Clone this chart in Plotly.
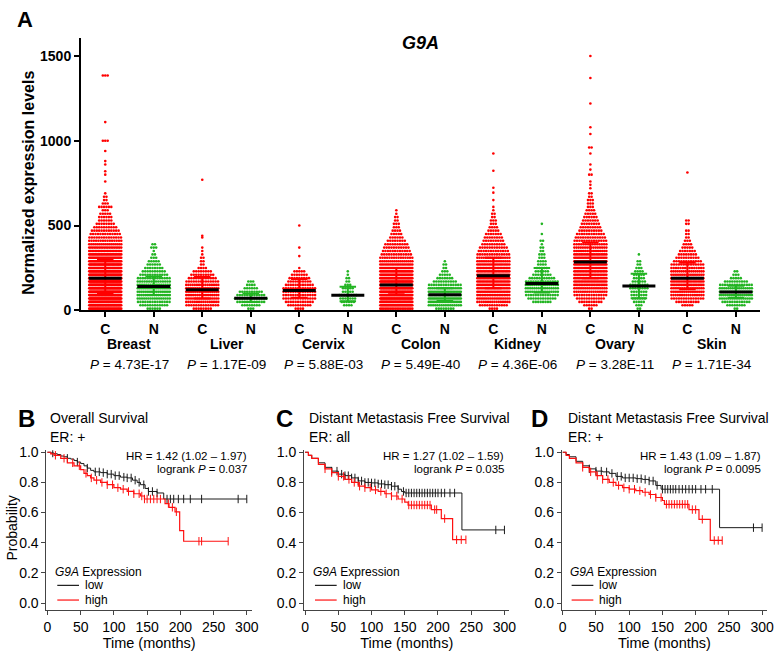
import plotly.graph_objects as go

FONT = "Liberation Sans, Arial, Helvetica, sans-serif"
W, H = 781, 656

# ---------------- Panel A data ----------------
TISSUES = ["Breast", "Liver", "Cervix", "Colon", "Kidney", "Ovary", "Skin"]
TICK_LABELS = ["C", "N", "C", "N", "C", "N", "C", "N", "C", "N", "C", "N", "C", "N"]
P_VALUES = ["4.73E-17", "1.17E-09", "5.88E-03", "5.49E-40", "4.36E-06", "3.28E-11", "1.71E-34"]
Y_TICKS = [0, 500, 1000, 1500]

# expression rows (values) and number of samples read in each row
ROW_VALUES = [10, 30, 50, 70, 90, 110, 130, 150, 170, 190, 210, 230, 250, 270, 290, 310, 330,
              350, 370, 390, 410, 430, 450, 470, 490, 510, 530, 550, 570, 590, 610, 630, 650, 670, 690]

breast_c = [30, 45, 50, 55, 55, 55, 55, 55, 55, 55, 50, 48, 45, 40, 35, 30, 26, 22, 20, 17, 15, 14, 13, 12,
            10, 8, 6, 6, 5, 3, 6, 3, 2, 2, 1]
breast_c_out = [760, 800, 820, 860, 880, 940, 1000, 1000, 1000, 1110, 1385, 1385, 1385]
breast_n = [6, 12, 14, 16, 18, 18, 18, 16, 15, 14, 12, 10, 8, 6, 5, 3, 2, 1, 3, 2]
breast_n_out = []
liver_c = [8, 14, 16, 18, 18, 18, 18, 16, 14, 12, 10, 8, 4, 2, 2, 2, 1, 1, 1]
liver_c_out = [430, 440, 770]
liver_n = [3, 8, 12, 14, 12, 10, 6, 4, 3]
liver_n_out = []
cervix_c = [4, 10, 12, 14, 14, 14, 14, 12, 10, 9, 7, 5, 1]
cervix_c_out = [320, 370, 500]
cervix_n = [0, 4, 6, 7, 8, 5, 5, 3, 2, 2, 1, 1]
cervix_n_out = []
colon_c = [20, 35, 40, 45, 45, 45, 45, 45, 42, 38, 34, 30, 25, 20, 17, 15, 13, 12, 11, 10, 8, 6, 5, 4, 3,
           3, 2, 2, 1, 1]
colon_c_out = []
colon_n = [8, 16, 22, 25, 25, 22, 18, 14, 10, 7, 5, 3, 2, 2, 1]
colon_n_out = []
kidney_c = [4, 12, 16, 18, 20, 22, 22, 24, 24, 25, 25, 24, 22, 20, 18, 16, 14, 13, 12, 10, 9, 8, 7, 5, 4,
            3, 3, 2, 2, 1, 1]
kidney_c_out = [650, 694, 723, 823, 925]
kidney_n = [0, 0, 8, 12, 14, 16, 16, 16, 14, 11, 8, 6, 5, 4, 4, 3, 3, 2, 2, 1, 2, 0, 1, 0, 0, 1]
kidney_n_out = []
ovary_c = [2, 6, 10, 12, 14, 16, 18, 20, 22, 22, 22, 22, 24, 24, 24, 22, 20, 18, 16, 15, 14, 13, 12, 10, 9,
           8, 7, 6, 5, 4, 3, 3, 3, 2, 2]
ovary_c_out = [720, 740, 760, 800, 800, 830, 860, 925, 960, 960, 1040, 1080, 1220, 1370, 1500]
ovary_n = [2, 3, 5, 6, 7, 7, 8, 8, 6, 5, 5, 4, 3, 2, 2, 0, 1]
ovary_n_out = []
skin_c = [0, 5, 10, 14, 16, 18, 18, 20, 20, 20, 18, 17, 15, 14, 12, 10, 8, 7, 5, 4, 3, 2, 2, 2, 0, 2, 2]
skin_c_out = [813]
skin_n = [2, 8, 12, 16, 18, 18, 16, 14, 10, 5, 3, 2]
skin_n_out = []

GROUP_COUNTS = [breast_c, breast_n, liver_c, liver_n, cervix_c, cervix_n, colon_c, colon_n,
                kidney_c, kidney_n, ovary_c, ovary_n, skin_c, skin_n]
GROUP_OUTLIERS = [breast_c_out, breast_n_out, liver_c_out, liver_n_out, cervix_c_out, cervix_n_out,
                  colon_c_out, colon_n_out, kidney_c_out, kidney_n_out, ovary_c_out, ovary_n_out,
                  skin_c_out, skin_n_out]
MEDIANS = [190, 140, 121, 72, 117, 89, 150, 92, 204, 158, 285, 143, 190, 108]
Q1 = [100, 90, 70, 50, 75, 54, 95, 55, 130, 106, 190, 71, 125, 75]
Q3 = [300, 200, 196, 100, 185, 139, 250, 130, 310, 250, 400, 216, 280, 145]

RED = "#FF0000"
GREEN = "#22B422"
DOT_STEP = 0.05
HALF_W = 0.33


def swarm(idx, counts, outliers):
    rows = {}
    for v, n in zip(ROW_VALUES, counts):
        if n:
            rows[v] = rows.get(v, 0) + n
    for v in outliers:
        rows[v] = rows.get(v, 0) + 1
    xs, ys = [], []
    for v, n in rows.items():
        step = DOT_STEP if n <= 1 else min(DOT_STEP, 2 * HALF_W / (n - 1))
        for k in range(n):
            xs.append(idx + (k - (n - 1) / 2) * step)
            ys.append(v)
    return xs, ys


fig = go.Figure()

for color_parity, color in ((0, RED), (1, GREEN)):
    X, Y = [], []
    for i in range(14):
        if i % 2 != color_parity:
            continue
        xs, ys = swarm(i, GROUP_COUNTS[i], GROUP_OUTLIERS[i])
        X += xs
        Y += ys
    fig.add_trace(go.Scatter(x=X, y=Y, mode="markers", xaxis="x", yaxis="y",
                             marker=dict(size=2.6, color=color, line=dict(width=0)),
                             showlegend=False, hoverinfo="skip"))

# error bars (interquartile range)
for color_parity, color in ((0, RED), (1, GREEN)):
    ex, ey = [], []
    for i in range(14):
        if i % 2 != color_parity:
            continue
        ex += [i, i, None, i - 0.17, i + 0.17, None, i - 0.17, i + 0.17, None]
        ey += [Q1[i], Q3[i], None, Q1[i], Q1[i], None, Q3[i], Q3[i], None]
    fig.add_trace(go.Scatter(x=ex, y=ey, mode="lines", xaxis="x", yaxis="y",
                             line=dict(color=color, width=2), showlegend=False, hoverinfo="skip"))

# medians
mx, my = [], []
for i in range(14):
    mx += [i - 0.34, i + 0.34, None]
    my += [MEDIANS[i], MEDIANS[i], None]
fig.add_trace(go.Scatter(x=mx, y=my, mode="lines", xaxis="x", yaxis="y",
                         line=dict(color="black", width=3), showlegend=False, hoverinfo="skip"))

# ---------------- Kaplan-Meier data ----------------
B_LOW_T = [0, 5, 10, 15, 20, 25, 30, 35, 40, 45, 50, 55, 60, 65, 70, 80, 90, 100, 110, 120, 128, 135, 140,
           147, 152, 165, 175]
B_LOW_S = [1.0, 0.995, 0.99, 0.985, 0.975, 0.97, 0.96, 0.955, 0.945, 0.935, 0.925, 0.91, 0.895, 0.88, 0.87,
           0.865, 0.855, 0.845, 0.835, 0.83, 0.815, 0.80, 0.785, 0.76, 0.74, 0.73, 0.69]
B_LOW_CENS = [8, 30, 45, 60, 72, 78, 84, 90, 96, 102, 108, 115, 120, 126, 132, 138, 145, 152, 158, 165,
              180, 185, 190, 197, 205, 215, 232, 287, 300]
B_HIGH_T = [0, 5, 10, 20, 30, 40, 50, 55, 60, 65, 70, 80, 90, 100, 110, 120, 130, 140, 146, 177, 183, 192,
            199, 205]
B_HIGH_S = [1.0, 0.99, 0.98, 0.96, 0.93, 0.91, 0.885, 0.86, 0.845, 0.83, 0.815, 0.80, 0.785, 0.765, 0.755,
            0.74, 0.725, 0.71, 0.69, 0.66, 0.635, 0.605, 0.48, 0.41]
B_HIGH_CENS = [12, 25, 38, 48, 58, 66, 74, 82, 90, 98, 106, 114, 122, 130, 138, 142, 146, 150, 155, 160,
               165, 170, 182, 188, 194, 228, 232, 272]

C_LOW_T = [0, 5, 10, 20, 30, 40, 50, 60, 70, 80, 90, 100, 110, 120, 130, 140, 145, 150, 236]
C_LOW_S = [1.0, 0.98, 0.96, 0.93, 0.90, 0.875, 0.855, 0.845, 0.83, 0.81, 0.80, 0.797, 0.79, 0.785, 0.775,
           0.755, 0.74, 0.73, 0.485]
C_LOW_CENS = [40, 48, 55, 60, 65, 70, 75, 80, 85, 90, 95, 100, 105, 110, 115, 120, 125, 130, 135, 140,
              148, 152, 156, 160, 164, 168, 172, 176, 180, 184, 188, 192, 196, 200, 205, 210, 218, 225,
              287, 300]
C_HIGH_T = [0, 5, 10, 20, 30, 40, 50, 60, 70, 80, 90, 100, 110, 120, 130, 140, 150, 155, 190, 205, 222]
C_HIGH_S = [1.0, 0.98, 0.96, 0.92, 0.89, 0.865, 0.84, 0.82, 0.80, 0.775, 0.765, 0.75, 0.74, 0.725, 0.71,
            0.69, 0.67, 0.65, 0.62, 0.56, 0.42]
C_HIGH_CENS = [30, 40, 50, 58, 66, 74, 82, 90, 98, 106, 114, 122, 130, 138, 146, 156, 160, 164, 168, 172,
               176, 180, 184, 188, 195, 198, 210, 228, 235, 242]

D_LOW_T = [0, 5, 10, 20, 30, 40, 50, 60, 70, 80, 90, 100, 110, 120, 130, 140, 148, 236]
D_LOW_S = [1.0, 0.985, 0.97, 0.94, 0.91, 0.89, 0.875, 0.87, 0.86, 0.84, 0.83, 0.83, 0.825, 0.82, 0.81,
           0.78, 0.755, 0.50]
D_LOW_CENS = [40, 50, 58, 66, 74, 82, 88, 94, 100, 106, 112, 118, 124, 130, 136, 142, 150, 154, 158, 162,
              166, 170, 175, 180, 185, 190, 195, 200, 208, 215, 225, 287, 300]
D_HIGH_T = [0, 5, 10, 20, 30, 40, 50, 60, 70, 80, 90, 100, 110, 120, 130, 140, 150, 153, 190, 205, 222]
D_HIGH_S = [1.0, 0.98, 0.96, 0.93, 0.90, 0.87, 0.845, 0.82, 0.80, 0.78, 0.765, 0.755, 0.745, 0.735, 0.72,
            0.70, 0.68, 0.655, 0.62, 0.555, 0.415]
D_HIGH_CENS = [30, 42, 52, 60, 68, 76, 84, 92, 100, 108, 116, 124, 132, 140, 148, 156, 160, 164, 168, 172,
               176, 180, 184, 188, 195, 200, 210, 228, 234, 240]

KM_TITLES = [("B", "Overall Survival", "ER: +"),
             ("C", "Distant Metastasis Free Survival", "ER: all"),
             ("D", "Distant Metastasis Free Survival", "ER: +")]
KM_HR = ["HR = 1.42 (1.02 \u2013 1.97)", "HR = 1.27 (1.02 \u2013 1.59)", "HR = 1.43 (1.09 \u2013 1.87)"]
KM_P = ["0.037", "0.035", "0.0095"]

KM_BLACK = "#1a1a1a"
KM_RED = "#FF1010"


def step_value(ts, ss, t):
    v = ss[0]
    for ti, si in zip(ts, ss):
        if ti <= t:
            v = si
    return v


km_sets = [
    (B_LOW_T, B_LOW_S, B_LOW_CENS, B_HIGH_T, B_HIGH_S, B_HIGH_CENS),
    (C_LOW_T, C_LOW_S, C_LOW_CENS, C_HIGH_T, C_HIGH_S, C_HIGH_CENS),
    (D_LOW_T, D_LOW_S, D_LOW_CENS, D_HIGH_T, D_HIGH_S, D_HIGH_CENS),
]

for k, (lt, ls, lc, ht, hs, hc) in enumerate(km_sets):
    xa, ya = "x%d" % (k + 2), "y%d" % (k + 2)
    for ts, ss, cs, col, lw in ((lt, ls, lc, KM_BLACK, 1), (ht, hs, hc, KM_RED, 1.2)):
        end = max(cs[-1], ts[-1])
        fig.add_trace(go.Scatter(x=ts + [end], y=ss + [ss[-1]], mode="lines", line_shape="hv",
                                 line=dict(color=col, width=lw), xaxis=xa, yaxis=ya,
                                 showlegend=False, hoverinfo="skip"))
        fig.add_trace(go.Scatter(x=cs, y=[step_value(ts, ss, c) for c in cs], mode="markers",
                                 marker=dict(symbol="line-ns", size=6, line=dict(color=col, width=1)),
                                 xaxis=xa, yaxis=ya, showlegend=False, hoverinfo="skip"))

# ---------------- Layout ----------------
def px_x(p):
    return p / W


def px_y(p):
    return 1 - p / H


layout = dict(
    width=W, height=H, margin=dict(l=0, r=0, t=0, b=0),
    paper_bgcolor="white", plot_bgcolor="white", showlegend=False,
    font=dict(family=FONT, color="black"),
    xaxis=dict(domain=[px_x(79), px_x(767)], range=[-0.5, 13.5], tickmode="array",
               tickvals=list(range(14)), ticktext=TICK_LABELS, showline=True, linecolor="black",
               linewidth=2, ticks="outside", ticklen=5, tickwidth=2, tickcolor="black",
               tickfont=dict(size=14, family=FONT, weight="bold"), showgrid=False, zeroline=False,
               anchor="y"),
    yaxis=dict(domain=[px_y(311), px_y(33)], range=[0, 1604], tickmode="array", tickvals=Y_TICKS,
               showline=True, linecolor="black", linewidth=2, ticks="outside", ticklen=5, tickwidth=2,
               tickcolor="black", tickfont=dict(size=14, family=FONT, weight="bold"),
               showgrid=False, zeroline=False, anchor="x"),
)

km_domains = [(44, 252), (305, 513), (566, 774)]
for k, (l, r) in enumerate(km_domains):
    layout["xaxis%d" % (k + 2)] = dict(
        domain=[px_x(l), px_x(r)], range=[-1.5, 307.5], tickmode="array",
        tickvals=[0, 50, 100, 150, 200, 250, 300], showline=True, linecolor="#444", linewidth=1,
        ticks="outside", ticklen=4, tickwidth=1, tickcolor="#444", tickfont=dict(size=14, family=FONT),
        showgrid=False, zeroline=False, anchor="y%d" % (k + 2),
        title=dict(text="Time (months)", font=dict(size=14.5, family=FONT), standoff=2))
    layout["yaxis%d" % (k + 2)] = dict(
        domain=[px_y(617), px_y(454)], range=[-0.045, 1.013], tickmode="array",
        tickvals=[0, 0.2, 0.4, 0.6, 0.8, 1.0], tickformat=".1f", showline=True, linecolor="#444",
        linewidth=1, ticks="outside", ticklen=4, tickwidth=1, tickcolor="#444",
        tickfont=dict(size=14, family=FONT), showgrid=False, zeroline=False, anchor="x%d" % (k + 2))

annotations = []
shapes = []

# Panel A texts
annotations.append(dict(text="<b>A</b>", x=px_x(12), y=px_y(14), xref="paper", yref="paper",
                        xanchor="left", yanchor="middle", showarrow=False, font=dict(size=22)))
annotations.append(dict(text="<b><i>G9A</i></b>", x=px_x(423), y=px_y(38), xref="paper", yref="paper",
                        xanchor="center", yanchor="middle", showarrow=False, font=dict(size=18)))
annotations.append(dict(text="<b>Normalized expression levels</b>", x=px_x(25), y=px_y(181),
                        xref="paper", yref="paper", xanchor="center", yanchor="middle", textangle=-90,
                        showarrow=False, font=dict(size=16)))
for i, (t, p) in enumerate(zip(TISSUES, P_VALUES)):
    annotations.append(dict(text="<b>%s</b>" % t, x=2 * i + 0.5, y=px_y(345), xref="x", yref="paper",
                            xanchor="center", yanchor="middle", showarrow=False, font=dict(size=14)))
    annotations.append(dict(text="<i>P</i> = %s" % p, x=2 * i + 0.5, y=px_y(366), xref="x", yref="paper",
                            xanchor="center", yanchor="middle", showarrow=False, font=dict(size=13.5)))

# KM panel texts
letter_x = [13, 275, 533]
title_x = [46, 308, 570]
hr_right = [249, 510, 770]
legend_x = [51, 312, 572]
for k in range(3):
    letter, t1, t2 = KM_TITLES[k]
    annotations.append(dict(text="<b>%s</b>" % letter, x=px_x(letter_x[k]), y=px_y(422), xref="paper",
                            yref="paper", xanchor="left", yanchor="middle", showarrow=False,
                            font=dict(size=24)))
    annotations.append(dict(text=t1, x=px_x(title_x[k]), y=px_y(421), xref="paper", yref="paper",
                            xanchor="left", yanchor="middle", showarrow=False, font=dict(size=14)))
    annotations.append(dict(text=t2, x=px_x(title_x[k]), y=px_y(440), xref="paper", yref="paper",
                            xanchor="left", yanchor="middle", showarrow=False, font=dict(size=14)))
    annotations.append(dict(text=KM_HR[k], x=px_x(hr_right[k]), y=px_y(459.5), xref="paper",
                            yref="paper", xanchor="right", yanchor="middle", showarrow=False,
                            font=dict(size=11.5)))
    annotations.append(dict(text="logrank <i>P</i> = %s" % KM_P[k], x=px_x(hr_right[k]), y=px_y(473),
                            xref="paper", yref="paper", xanchor="right", yanchor="middle",
                            showarrow=False, font=dict(size=11.5)))
    lx = legend_x[k]
    annotations.append(dict(text="<i>G9A</i> Expression", x=px_x(lx), y=px_y(578), xref="paper",
                            yref="paper", xanchor="left", yanchor="middle", showarrow=False,
                            font=dict(size=12)))
    for yy, col, lab in ((592, KM_BLACK, "low"), (607, KM_RED, "high")):
        shapes.append(dict(type="line", xref="paper", yref="paper", x0=px_x(lx + 4), x1=px_x(lx + 26),
                           y0=px_y(yy), y1=px_y(yy), line=dict(color=col, width=1.2)))
        annotations.append(dict(text=lab, x=px_x(lx + 30), y=px_y(yy), xref="paper", yref="paper",
                                xanchor="left", yanchor="middle", showarrow=False, font=dict(size=12)))

annotations.append(dict(text="Probability", x=px_x(9), y=px_y(533), xref="paper", yref="paper",
                        xanchor="center", yanchor="middle", textangle=-90, showarrow=False,
                        font=dict(size=14)))

layout["annotations"] = annotations
layout["shapes"] = shapes
fig.update_layout(**layout)

fig.write_html("out.html", config={"displayModeBar": False, "staticPlot": True},
               post_script="document.body.style.margin='0';document.body.style.padding='0';"
                           "document.body.style.overflow='hidden';")
